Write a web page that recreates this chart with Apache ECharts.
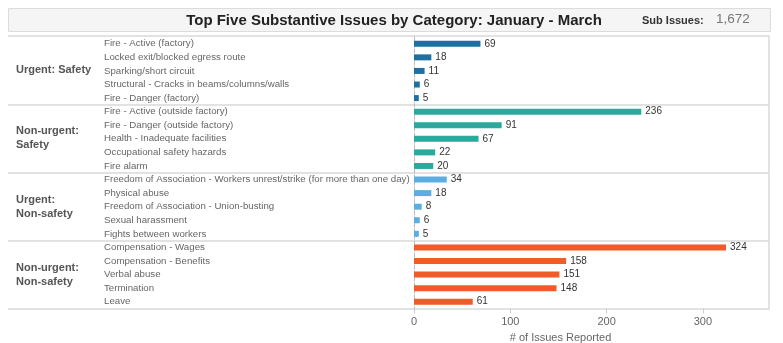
<!DOCTYPE html>
<html>
<head>
<meta charset="utf-8">
<script src="https://cdn.jsdelivr.net/npm/echarts@6/dist/echarts.min.js"></script>
<style>
  html, body { margin: 0; padding: 0; background: #fff; }
  #main { width: 783px; height: 343px; }
</style>
</head>
<body>
<div id="main"></div>
<script>
// groups of five sub issues each
const groups = ['Urgent: Safety', 'Non-urgent:\nSafety', 'Urgent:\nNon-safety', 'Non-urgent:\nNon-safety'];
const groupColors = ['#1f6fa1', '#2aaa9c', '#5cade0', '#f15b29'];
const issues = [
  'Fire - Active (factory)',
  'Locked exit/blocked egress route',
  'Sparking/short circuit',
  'Structural - Cracks in beams/columns/walls',
  'Fire - Danger (factory)',
  'Fire - Active (outside factory)',
  'Fire - Danger (outside factory)',
  'Health - Inadequate facilities',
  'Occupational safety hazards',
  'Fire alarm',
  'Freedom of Association - Workers unrest/strike (for more than one day)',
  'Physical abuse',
  'Freedom of Association - Union-busting',
  'Sexual harassment',
  'Fights between workers',
  'Compensation - Wages',
  'Compensation - Benefits',
  'Verbal abuse',
  'Termination',
  'Leave'
];
const counts = [69, 18, 11, 6, 5, 236, 91, 67, 22, 20, 34, 18, 8, 6, 5, 324, 158, 151, 148, 61];
const xTicks = [0, 100, 200, 300];
const subIssuesTotal = '1,672';

const chart = echarts.init(document.getElementById('main'));
const font = 'Liberation Sans, Arial, sans-serif';

chart.setOption({
  animation: false,
  textStyle: { fontFamily: font },
  title: [
    {
      text: 'Top Five Substantive Issues by Category: January - March',
      left: 389, top: 8, textAlign: 'center',
      textStyle: { fontSize: 15, fontWeight: 'bold', color: '#222', fontFamily: font }
    },
    {
      text: 'Sub Issues:',
      left: 637, top: 10,
      textStyle: { fontSize: 11, fontWeight: 'bold', color: '#333', fontFamily: font }
    },
    {
      text: subIssuesTotal,
      left: 711, top: 7,
      textStyle: { fontSize: 13.5, fontWeight: 'normal', color: '#777', fontFamily: font }
    }
  ],
  graphic: [
    {
      type: 'rect', z: -1,
      shape: { x: 8.5, y: 8.5, width: 762, height: 23 },
      style: { fill: '#f5f5f5', stroke: '#dcdcdc', lineWidth: 1 }
    }
  ],
  grid: [
    { left: 8, right: 14, top: 36, bottom: 34, outerBoundsMode: 'none' },
    { left: 414, right: 14, top: 37, bottom: 34.5, outerBoundsMode: 'none' }
  ],
  xAxis: [
    { gridIndex: 0, type: 'value', min: 0, max: 1, show: false },
    {
      gridIndex: 1, type: 'value', min: 0, max: 368.6, interval: 100,
      name: '# of Issues Reported', nameLocation: 'middle', nameGap: 23,
      nameTextStyle: { fontSize: 11, color: '#666', padding: [0, 62, 0, 0] },
      axisLine: { show: false },
      axisTick: { show: true, inside: false, length: 5, lineStyle: { color: '#ccc' } },
      splitLine: { show: false },
      axisLabel: {
        color: '#666', fontSize: 11, margin: 8, showMaxLabel: false,
        formatter: v => xTicks.includes(v) ? String(v) : ''
      }
    }
  ],
  yAxis: [
    {
      gridIndex: 0, type: 'category', data: groups, inverse: true,
      axisLine: { show: false }, axisTick: { show: false },
      splitLine: { show: true, lineStyle: { color: '#d8d8d8', width: 1.5 } },
      axisLabel: {
        inside: true, margin: 8, align: 'left', color: '#555',
        fontSize: 11, fontWeight: 'bold', lineHeight: 14
      }
    },
    {
      gridIndex: 0, type: 'category', data: groups, inverse: true, position: 'right',
      axisLine: { show: true, lineStyle: { color: '#d8d8d8', width: 1.5 } },
      axisTick: { show: false }, axisLabel: { show: false }, splitLine: { show: false }
    },
    {
      gridIndex: 1, type: 'category', data: issues, inverse: true,
      axisLine: { show: true, lineStyle: { color: '#bbb', type: 'dashed', width: 1 } },
      axisTick: { show: false },
      axisLabel: { interval: 0, align: 'left', margin: 310, color: '#666', fontSize: 9.7 }
    }
  ],
  series: [
    {
      type: 'bar', xAxisIndex: 1, yAxisIndex: 2,
      data: counts, barWidth: 6,
      itemStyle: { color: p => groupColors[Math.floor(p.dataIndex / 5)] },
      label: { show: true, position: 'right', distance: 4, color: '#333', fontSize: 10 }
    }
  ]
});
</script>
</body>
</html>
